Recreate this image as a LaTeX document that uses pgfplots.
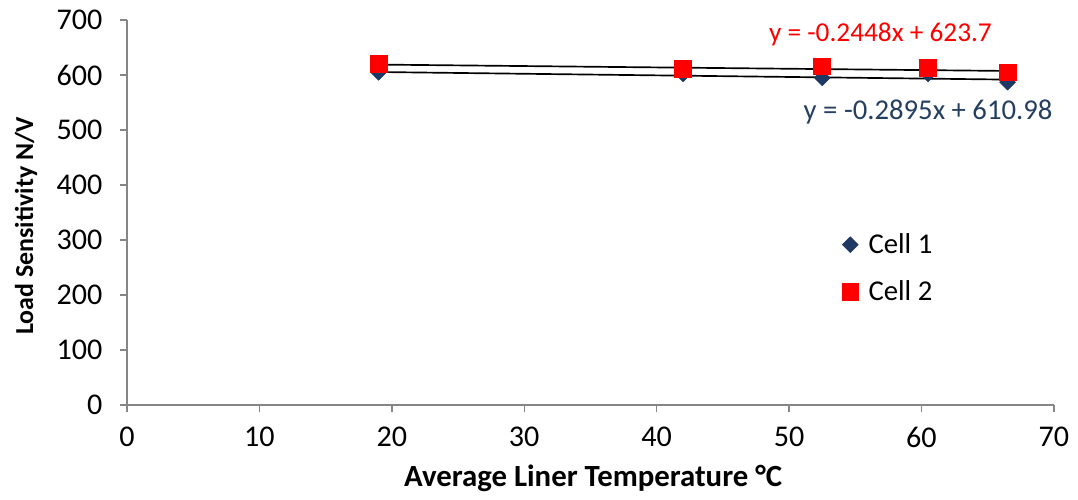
\documentclass[border=0pt]{standalone}
\usepackage{fontspec}
\setmainfont{Carlito}
\usepackage{pgfplots}
\pgfplotsset{compat=1.18}
\definecolor{cellblue}{HTML}{1F3864}
\definecolor{eqblue}{HTML}{243F60}
\definecolor{axgray}{HTML}{868686}
\begin{document}
\begin{tikzpicture}
\begin{axis}[scale only axis,width=662pt,height=275pt,
 xmin=0,xmax=70,ymin=0,ymax=700,
 xtick={0,10,...,70},ytick={0,100,...,700},
 axis x line*=bottom,axis y line*=left,
 axis line style={axgray,line width=1pt},
 tick style={axgray,line width=1pt},
 tick align=outside,major tick length=5pt,
 /pgf/number format/assume math mode=true,
 tick label style={font=\fontsize{21.5}{26}\selectfont},
 xticklabel style={yshift=-7pt},
 yticklabel style={xshift=-9pt},
 xlabel={\textbf{Average Liner Temperature °C}},
 ylabel={\textbf{Load Sensitivity N/V}},
 xlabel style={font=\fontsize{22}{26}\selectfont,at={(axis description cs:0.503,-0.19)},anchor=center},
 ylabel style={font=\fontsize{18.5}{22}\selectfont,at={(axis description cs:-0.109,0.465)},anchor=center},
 clip=false,
 legend style={at={(axis description cs:0.771,0.453)},anchor=north west,draw=none,fill=none,
   font=\fontsize{20.5}{24}\selectfont,row sep=14pt,column sep=5pt,inner sep=0pt},
 legend cell align=left]
% Cell 1
\addplot[only marks,mark=square*,mark size=4pt,mark options={rotate=45},color=cellblue] coordinates {
 (19,605) (42,602) (52.5,595) (60.5,602) (66.5,587)};
\addlegendentry{Cell 1}
% Cell 2
\addplot[only marks,mark=square*,mark size=6pt,color=red] coordinates {
 (19,620) (42,611) (52.5,616) (60.5,613) (66.5,605)};
\addlegendentry{Cell 2}
% trend lines
\addplot[black,line width=1.2pt,forget plot] coordinates {(19,605.5) (66.5,591.7)};
\addplot[black,line width=1.2pt,forget plot] coordinates {(19,619.0) (66.5,607.4)};
\node[red,font=\fontsize{19.5}{24}\selectfont] at (axis cs:56.9,674) {y = -0.2448x + 623.7};
\node[eqblue,font=\fontsize{20.5}{25}\selectfont] at (axis cs:60.5,533) {y = -0.2895x + 610.98};
% page frame
\path (rel axis cs:-0.137,-0.244) rectangle (rel axis cs:1.026,1.052);
\end{axis}
\end{tikzpicture}
\end{document}
